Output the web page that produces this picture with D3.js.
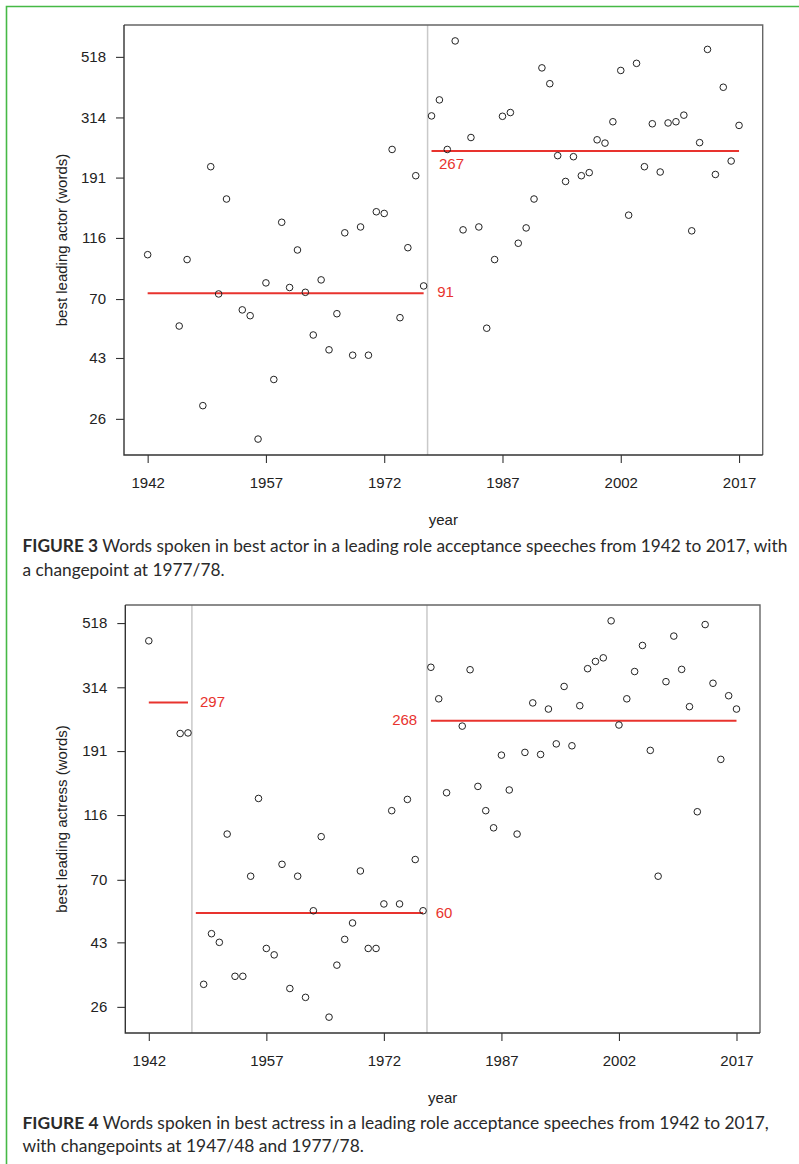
<!DOCTYPE html>
<html><head><meta charset="utf-8">
<script src="https://cdn.jsdelivr.net/npm/d3@7"></script>
<style>body{margin:0;background:#fff} svg{display:block}</style>
</head><body>
<svg id="c" width="799" height="1164"></svg>
<script>
// ---------- DATA ----------
const yTickValues = [26, 43, 70, 116, 191, 314, 518];
const xTickValues = [1942, 1957, 1972, 1987, 2002, 2017];

const actorYears = [1942,1946,1947,1949,1950,1951,1952,1954,1955,1956,1957,1958,1959,1960,1961,1962,1963,1964,1965,1966,1967,1968,1969,1970,1971,1972,1973,1974,1975,1976,1977,
  1978,1979,1980,1981,1982,1983,1984,1985,1986,1987,1988,1989,1990,1991,1992,1993,1994,1995,1996,1997,1998,1999,2000,2001,2002,2003,2004,2005,2006,2007,2008,2009,2010,2011,2012,2013,2014,2015,2016,2017];
const actorWords = [101,56,97,29,209,73,160,64,61,22,80,36,132,77,105,74,52,82,46,62,121,44,127,44,144,142,241,60,107,194,78,
  318,363,241,591,124,266,127,55,97,317,327,111,126,160,473,415,229,185,227,194,199,261,254,303,463,140,491,209,298,200,300,303,320,123,255,551,196,403,219,294];
const actorChangepoints = [1977.5];
const actorSegments = [
  {from: 1942, to: 1977, level: 73.4, label: "91"},
  {from: 1978, to: 2017, level: 238, label: "267"}
];

const actressYears = [1942,1946,1947,1949,1950,1951,1952,1953,1954,1955,1956,1957,1958,1959,1960,1961,1962,1963,1964,1965,1966,1967,1968,1969,1970,1971,1972,1973,1974,1975,1976,1977,
  1978,1979,1980,1982,1983,1984,1985,1986,1987,1988,1989,1990,1991,1992,1993,1994,1995,1996,1997,1998,1999,2000,2001,2002,2003,2004,2005,2006,2007,2008,2009,2010,2011,2012,2013,2014,2015,2016,2017];
const actressWords = [451,219,220,31,46,43,100,33,33,72,132,41,39,79,30,72,28,55,98,24,36,44,50,75,41,41,58,120,58,131,82,55,
  367,287,138,232,360,145,120,105,185,141,100,189,278,186,265,202,316,199,272,363,384,395,527,234,287,355,435,192,72,328,468,361,270,119,512,324,179,294,265];
const actressChangepoints = [1947.5, 1977.5];
const actressSegments = [
  {from: 1942, to: 1947, level: 279, label: "297"},
  {from: 1948, to: 1977, level: 54.1, label: "60"},
  {from: 1978, to: 2017, level: 242, label: "268"}
];

const captions = [
  {fig: "FIGURE 3", lines: [" Words spoken in best actor in a leading role acceptance speeches from 1942 to 2017, with", "a changepoint at 1977/78."]},
  {fig: "FIGURE 4", lines: [" Words spoken in best actress in a leading role acceptance speeches from 1942 to 2017,", "with changepoints at 1947/48 and 1977/78."]}
];

// ---------- LAYOUT ----------
const svg = d3.select("#c");
const RED = "#e8332e";
const AX = "Liberation Sans, Arial, Helvetica, sans-serif";
const CAP = "Lato, 'Open Sans', sans-serif";

// green frame
svg.append("path").attr("d", "M6.5,1170 L6.5,6.5 L810,6.5")
  .attr("fill", "none").attr("stroke", "#46b946").attr("stroke-width", 1.6);

function logPad(vals) {
  const lo = Math.log(d3.min(vals)), hi = Math.log(d3.max(vals));
  const p = (hi - lo) * 0.04;
  return [Math.exp(lo - p), Math.exp(hi + p)];
}

function drawPanel(cfg) {
  const {left, right, top, bottom, years, words, cps, segs, ylabel, labelPlace, caption, capY, capW} = cfg;
  const xe = d3.extent(years), xp = (xe[1] - xe[0]) * 0.04;
  const x = d3.scaleLinear().domain([xe[0] - xp, xe[1] + xp]).range([left, right]);
  const y = d3.scaleLog().domain(logPad(words)).range([bottom, top]);
  const g = svg.append("g");

  // changepoint lines
  g.selectAll(".cp").data(cps).join("line")
    .attr("x1", d => x(d)).attr("x2", d => x(d))
    .attr("y1", top).attr("y2", bottom)
    .attr("stroke", "#c9c9c9").attr("stroke-width", 1.5);

  // axes
  const ya = g.append("g").attr("transform", `translate(${left},0)`)
    .call(d3.axisLeft(y).tickValues(yTickValues).tickFormat(d3.format("d")).tickSize(8).tickPadding(10));
  const xa = g.append("g").attr("transform", `translate(0,${bottom})`)
    .call(d3.axisBottom(x).tickValues(xTickValues).tickFormat(d3.format("d")).tickSize(8).tickPadding(14));
  [ya, xa].forEach(a => {
    a.select(".domain").remove();
    a.selectAll("line").attr("stroke", "#333").attr("stroke-width", 1.1);
    a.selectAll("text").attr("font-family", AX).attr("font-size", 15).attr("fill", "#222");
  });

  // box
  g.append("path").attr("d", `M${left},${top} L${right},${top} L${right},${bottom}`)
    .attr("fill", "none").attr("stroke", "#666").attr("stroke-width", 1.4);
  g.append("path").attr("d", `M${left},${top} L${left},${bottom} L${right},${bottom}`)
    .attr("fill", "none").attr("stroke", "#333").attr("stroke-width", 1.4);

  // segments
  g.selectAll(".seg").data(segs).join("line")
    .attr("x1", d => x(d.from)).attr("x2", d => x(d.to))
    .attr("y1", d => y(d.level)).attr("y2", d => y(d.level))
    .attr("stroke", RED).attr("stroke-width", 2);
  g.selectAll(".segl").data(segs).join("text")
    .attr("x", (d, i) => {
      const p = labelPlace[i];
      return p.side === "left" ? x(d.from) + p.dx : p.side === "below" ? x(d.from) + p.dx : x(d.to) + p.dx;
    })
    .attr("y", (d, i) => y(d.level) + labelPlace[i].dy)
    .attr("text-anchor", (d, i) => labelPlace[i].side === "left" ? "end" : "start")
    .attr("font-family", AX).attr("font-size", 15).attr("fill", RED)
    .text(d => d.label);

  // points
  g.selectAll(".pt").data(years.map((yr, i) => [yr, words[i]])).join("circle")
    .attr("cx", d => x(d[0])).attr("cy", d => y(d[1])).attr("r", 3.3)
    .attr("fill", "none").attr("stroke", "#222").attr("stroke-width", 1);

  // axis titles
  g.append("text").attr("transform", `translate(62,${(top + bottom) / 2}) rotate(-90)`)
    .attr("text-anchor", "middle").attr("dy", "0.35em")
    .attr("font-family", AX).attr("font-size", 15).attr("fill", "#222").text(ylabel);
  g.append("text").attr("x", (left + right) / 2).attr("y", bottom + 70)
    .attr("text-anchor", "middle")
    .attr("font-family", AX).attr("font-size", 15).attr("fill", "#222").text("year");

  // caption
  const t1 = svg.append("text").attr("x", 22.5).attr("y", capY[0])
    .attr("font-family", CAP).attr("font-size", 17).attr("fill", "#2a2a2a");
  t1.append("tspan").attr("font-weight", "bold").text(caption.fig);
  t1.append("tspan").text(caption.lines[0]);
  const w = t1.node().getComputedTextLength();
  const fs = 17 * capW / w;
  t1.attr("font-size", fs);
  svg.append("text").attr("x", 22.5).attr("y", capY[1])
    .attr("font-family", CAP).attr("font-size", fs).attr("fill", "#2a2a2a")
    .text(caption.lines[1]);
}

drawPanel({
  left: 124, right: 762.7, top: 25, bottom: 455,
  years: actorYears, words: actorWords, cps: actorChangepoints, segs: actorSegments,
  ylabel: "best leading actor (words)",
  labelPlace: [{side: "right", dx: 13.5, dy: 4}, {side: "below", dx: 7.5, dy: 18.5}],
  caption: captions[0], capY: [551.7, 575.5], capW: 765.5
});
drawPanel({
  left: 125.3, right: 760, top: 605, bottom: 1033,
  years: actressYears, words: actressWords, cps: actressChangepoints, segs: actressSegments,
  ylabel: "best leading actress (words)",
  labelPlace: [{side: "right", dx: 12, dy: 5}, {side: "right", dx: 12.7, dy: 5}, {side: "left", dx: -13.7, dy: 4.5}],
  caption: captions[1], capY: [1129, 1151.5], capW: 746.8
});
</script></body></html>
